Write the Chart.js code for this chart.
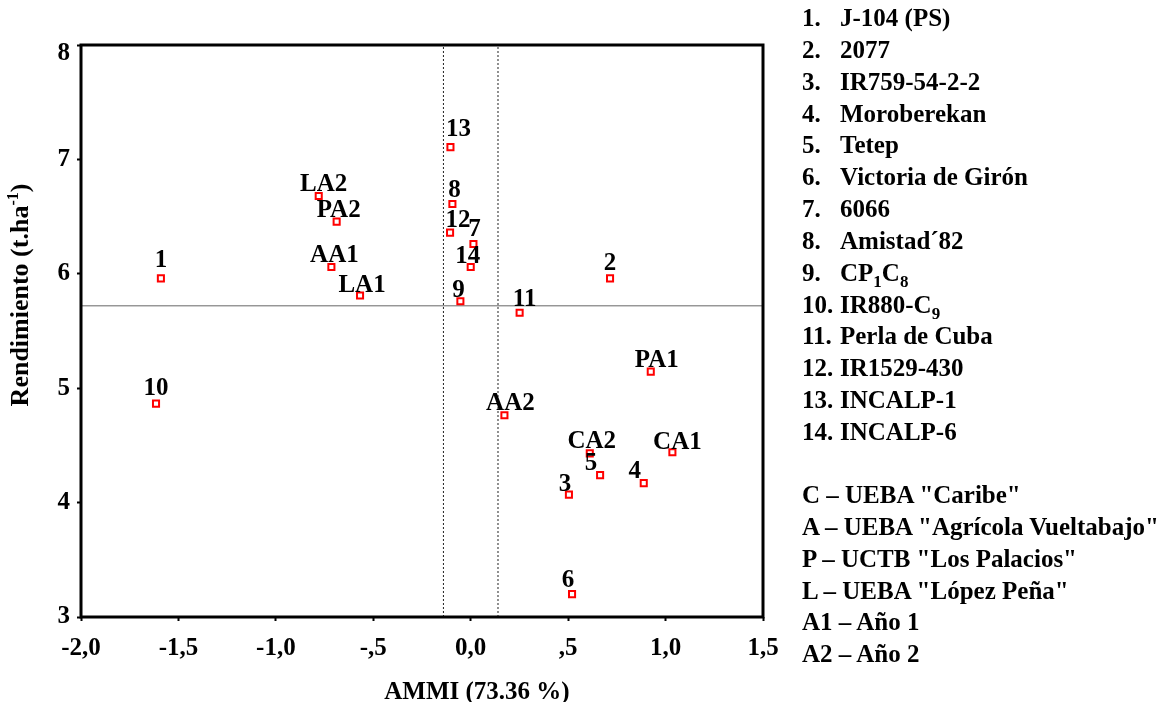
<!DOCTYPE html>
<html>
<head>
<meta charset="utf-8">
<script src="https://cdn.jsdelivr.net/npm/chart.js@4.4.1/dist/chart.umd.min.js"></script>
<style>
  html, body { margin: 0; padding: 0; background: #fff; }
  #wrap { position: relative; width: 1170px; height: 702px; overflow: hidden; }
  #c { position: absolute; left: 0; top: 0; }
  .leg { position: absolute; left: 802px; font-family: 'Liberation Serif', 'Times New Roman', serif; font-weight: bold; font-size: 25px; line-height: 31.85px; color: #000; white-space: nowrap; }
  .num { display: inline-block; width: 38px; }
  .sb { font-size: 17px; line-height: 0; vertical-align: -6px; }
</style>
</head>
<body>
<div id="wrap">
  <canvas id="c" width="1170" height="702"></canvas>
  <div class="leg" id="leg1" style="top:2px"></div>
  <div class="leg" id="leg2" style="top:479px"></div>
</div>
<script>
// ---- data ----
const pointLabels = ['1','2','3','4','5','6','7','8','9','10','11','12','13','14','CA1','CA2','AA1','AA2','PA1','PA2','LA1','LA2'];
const ammiValues  = [-1.59, 0.715, 0.504, 0.888, 0.664, 0.520, 0.014, -0.094, -0.053, -1.615, 0.251, -0.106, -0.104, 0.000, 1.035, 0.611, -0.715, 0.173, 0.924, -0.688, -0.568, -0.780];
const yieldValues = [5.96, 5.96, 4.07, 4.17, 4.24, 3.20, 6.26, 6.61, 5.76, 4.865, 5.66, 6.36, 7.107, 6.06, 4.44, 4.43, 6.06, 4.763, 5.145, 6.456, 5.81, 6.68];
const meanYield = 5.72;
const ammiLimits = [-0.14, 0.14];
const xTickValues = [-2.0, -1.5, -1.0, -0.5, 0.0, 0.5, 1.0, 1.5];
const xTickLabels = ['-2,0', '-1,5', '-1,0', '-,5', '0,0', ',5', '1,0', '1,5'];
const yTickValues = [3, 4, 5, 6, 7, 8];
const genotypeNames = ['J-104 (PS)', '2077', 'IR759-54-2-2', 'Moroberekan', 'Tetep', 'Victoria de Girón', '6066', 'Amistad´82',
  'CP<span class="sb">1</span>C<span class="sb">8</span>', 'IR880-C<span class="sb">9</span>', 'Perla de Cuba', 'IR1529-430', 'INCALP-1', 'INCALP-6'];
const environmentKey = ['C – UEBA "Caribe"', 'A – UEBA "Agrícola Vueltabajo"', 'P – UCTB "Los Palacios"', 'L – UEBA "López Peña"', 'A1 – Año 1', 'A2 – Año 2'];
const xTitle = 'AMMI (73.36 %)';
const yTitleParts = ['Rendimiento (t.ha', '-1', ')'];

// ---- legend text (HTML) ----
document.getElementById('leg1').innerHTML = genotypeNames.map((n, i) =>
  '<div><span class="num">' + (i + 1) + '.</span>' + n + '</div>').join('');
document.getElementById('leg2').innerHTML = environmentKey.map(t =>
  '<div>' + t.replace(/"/g, '&quot;') + '</div>').join('');

const FONT = "'Liberation Serif', 'Times New Roman', serif";

// label placement nudges (style only)
const labelNudge = {
  '1':[0,-11], '2':[0,-8], '3':[-4,-4], '4':[-9,-5], '5':[-9,-5], '6':[-4,-7], '7':[1,-8], '8':[2,-7],
  '9':[-2,-4], '10':[0,-9], '11':[5,-7], '12':[8,-6], '13':[8,-11], '14':[-3,-4],
  'CA1':[5,-3], 'CA2':[2,-5], 'AA1':[3,-5], 'AA2':[6,-5], 'PA1':[6,-5], 'PA2':[2,-5], 'LA1':[2,-4], 'LA2':[5,-5]
};

const decorPlugin = {
  id: 'decor',
  beforeDraw(chart) {
    const ys = chart.scales.y;
    const items = ys.getLabelItems();
    items.forEach(it => {
      if (String(it.label) === String(yTickValues[yTickValues.length - 1]) && !it._shifted) {
        it.options.translation[1] += 9;
        it._shifted = true;
      }
    });
  },
  afterDatasetsDraw(chart) {
    const ctx = chart.ctx;
    const a = chart.chartArea;
    const meta = chart.getDatasetMeta(0);
    ctx.save();
    ctx.fillStyle = '#000';
    ctx.font = 'bold 25px ' + FONT;
    ctx.textAlign = 'center';
    ctx.textBaseline = 'alphabetic';
    meta.data.forEach((el, i) => {
      const lab = pointLabels[i];
      const n = labelNudge[lab] || [0, -5];
      ctx.fillText(lab, el.x + n[0], el.y + n[1]);
    });
    // frame
    ctx.strokeStyle = '#000';
    ctx.lineWidth = 3;
    ctx.strokeRect(a.left, a.top, a.right - a.left, a.bottom - a.top);
    // x title
    ctx.font = 'bold 25px ' + FONT;
    ctx.textAlign = 'center';
    ctx.fillText(xTitle, 477, 699);
    // y title with superscript
    ctx.translate(28, 295);
    ctx.rotate(-Math.PI / 2);
    ctx.textAlign = 'left';
    const mainFont = 'bold 26px ' + FONT, supFont = 'bold 16px ' + FONT;
    ctx.font = mainFont; const w1 = ctx.measureText(yTitleParts[0]).width;
    ctx.font = supFont; const w2 = ctx.measureText(yTitleParts[1]).width;
    ctx.font = mainFont; const w3 = ctx.measureText(yTitleParts[2]).width;
    let x0 = -(w1 + w2 + w3) / 2;
    ctx.font = mainFont; ctx.fillText(yTitleParts[0], x0, 0); x0 += w1;
    ctx.font = supFont; ctx.fillText(yTitleParts[1], x0, -10); x0 += w2;
    ctx.font = mainFont; ctx.fillText(yTitleParts[2], x0, 0);
    ctx.restore();
  }
};

new Chart(document.getElementById('c'), {
  type: 'scatter',
  data: {
    datasets: [
      {
        label: 'points',
        data: ammiValues.map((x, i) => ({ x: x, y: yieldValues[i] })),
        pointStyle: 'rect',
        pointRadius: 4.3,
        pointBorderWidth: 2,
        pointBorderColor: '#ff0000',
        pointBackgroundColor: '#ffffff',
        order: 0
      },
      {
        label: 'mean',
        data: [{ x: xTickValues[0], y: meanYield }, { x: xTickValues[xTickValues.length - 1], y: meanYield }],
        showLine: true, borderColor: '#666', borderWidth: 1, pointRadius: 0, order: 2
      },
      ...ammiLimits.map(v => ({
        label: 'lim' + v,
        data: [{ x: v, y: yTickValues[0] }, { x: v, y: yTickValues[yTickValues.length - 1] }],
        showLine: true, borderColor: '#222', borderWidth: 1, borderDash: [2, 2], pointRadius: 0, order: 1
      }))
    ]
  },
  options: {
    responsive: false,
    animation: false,
    devicePixelRatio: 1,
    layout: { padding: { left: 0, top: 45, right: 407, bottom: 0 } },
    plugins: { legend: { display: false }, tooltip: { enabled: false } },
    scales: {
      x: {
        type: 'linear',
        min: xTickValues[0], max: xTickValues[xTickValues.length - 1],
        afterBuildTicks: s => { s.ticks = xTickValues.map(v => ({ value: v })); },
        afterFit: s => { s.height = 85; },
        border: { display: false },
        grid: { drawOnChartArea: false, drawTicks: true, tickLength: 4, tickWidth: 2, tickColor: '#000' },
        ticks: {
          color: '#000', padding: 13, maxRotation: 0, autoSkip: false,
          font: { family: FONT, size: 25, weight: 'bold' },
          callback: v => { const i = xTickValues.findIndex(t => Math.abs(t - v) < 1e-9); return i >= 0 ? xTickLabels[i] : ''; }
        }
      },
      y: {
        type: 'linear',
        min: yTickValues[0], max: yTickValues[yTickValues.length - 1],
        afterBuildTicks: s => { s.ticks = yTickValues.map(v => ({ value: v })); },
        afterFit: s => { s.width = 81; },
        border: { display: false },
        grid: { drawOnChartArea: false, drawTicks: true, tickLength: 4, tickWidth: 2, tickColor: '#000' },
        ticks: {
          color: '#000', padding: 7, autoSkip: false,
          font: { family: FONT, size: 25, weight: 'bold' },
          callback: v => String(v)
        }
      }
    }
  },
  plugins: [decorPlugin]
});
</script>
</body>
</html>
